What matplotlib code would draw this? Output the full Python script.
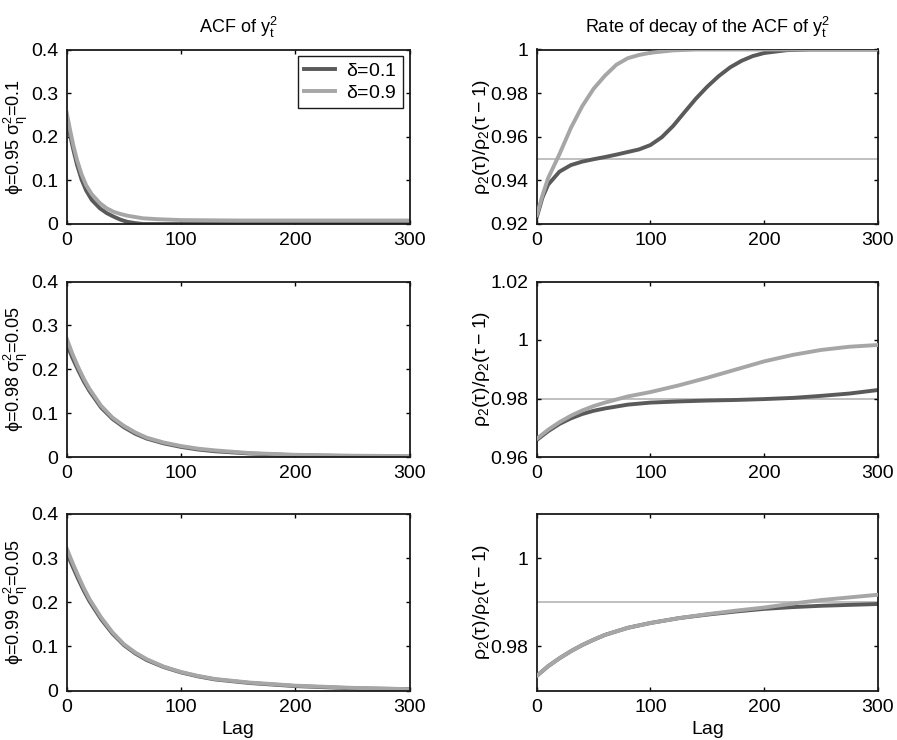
import matplotlib
matplotlib.use("Agg")
import matplotlib.pyplot as plt
import numpy as np

plt.rcParams['font.family'] = ['Liberation Sans', 'DejaVu Sans']
plt.rcParams['mathtext.fontset'] = 'dejavusans'
plt.rcParams['mathtext.default'] = 'regular'

# ACF of y_t^2, left column (rows: phi=0.95, 0.98, 0.99)
lag_a1 = [0, 3, 6, 9, 13, 17, 22, 29, 35, 41, 47, 53, 60, 67, 80, 100, 150, 200, 250, 300]
acf1_d01 = [0.245, 0.203, 0.168, 0.136, 0.102, 0.077, 0.055, 0.036, 0.025, 0.017, 0.010, 0.005, 0.002, 0.0,
            0.0, 0.0, 0.0, 0.0, 0.0, 0.0]
acf1_d09 = [0.255, 0.215, 0.178, 0.147, 0.114, 0.089, 0.068, 0.048, 0.036, 0.028, 0.023, 0.019, 0.016, 0.013,
            0.011, 0.009, 0.008, 0.008, 0.008, 0.008]

lag_a = [0, 5, 10, 15, 20, 30, 40, 50, 60, 70, 85, 100, 115, 130, 160, 200, 250, 300]
acf2_d01 = [0.258, 0.226, 0.198, 0.172, 0.150, 0.113, 0.087, 0.068, 0.053, 0.042, 0.031, 0.023, 0.017, 0.013,
            0.008, 0.004, 0.002, 0.001]
acf2_d09 = [0.270, 0.235, 0.205, 0.178, 0.155, 0.117, 0.090, 0.071, 0.056, 0.044, 0.033, 0.025, 0.019, 0.015,
            0.009, 0.005, 0.003, 0.002]
acf3_d01 = [0.312, 0.282, 0.253, 0.226, 0.202, 0.162, 0.129, 0.103, 0.084, 0.069, 0.053, 0.041, 0.032, 0.025,
            0.017, 0.010, 0.005, 0.003]
acf3_d09 = [0.322, 0.290, 0.260, 0.232, 0.207, 0.166, 0.132, 0.105, 0.086, 0.071, 0.054, 0.042, 0.033, 0.026,
            0.018, 0.011, 0.006, 0.003]

# rate of decay rho2(tau)/rho2(tau-1), right column
lag_r1_d01 = [0, 5, 10, 20, 30, 40, 50, 60, 70, 80, 90, 100, 110, 120, 130, 140, 150, 160, 170, 180, 190, 200,
              220, 240, 300]
rate1_d01 = [0.923, 0.932, 0.938, 0.944, 0.947, 0.9486, 0.9497, 0.9507, 0.9518, 0.9530, 0.9542, 0.9562, 0.9598,
             0.9650, 0.9713, 0.9775, 0.9830, 0.9878, 0.9918, 0.9948, 0.9970, 0.9984, 0.9997, 1.0, 1.0]
lag_r1_d09 = [0, 5, 10, 20, 30, 40, 50, 60, 70, 80, 90, 100, 120, 140, 300]
rate1_d09 = [0.924, 0.933, 0.941, 0.952, 0.964, 0.974, 0.982, 0.988, 0.993, 0.996, 0.9975, 0.9985, 0.9996,
             1.0, 1.0]

lag_r = [0, 10, 20, 30, 40, 50, 60, 80, 100, 125, 150, 175, 200, 225, 250, 275, 300]
rate2_d01 = [0.9658, 0.9688, 0.9713, 0.9732, 0.9747, 0.9758, 0.9766, 0.9779, 0.9786, 0.9790, 0.9793, 0.9795,
             0.9798, 0.9802, 0.9809, 0.9817, 0.9829]
rate2_d09 = [0.9662, 0.9693, 0.9719, 0.9741, 0.9759, 0.9774, 0.9786, 0.9807, 0.9822, 0.9845, 0.9871, 0.9899,
             0.9927, 0.9949, 0.9966, 0.9977, 0.9983]
rate3_d01 = [0.9733, 0.9755, 0.9773, 0.9789, 0.9803, 0.9815, 0.9826, 0.9842, 0.9853, 0.9864, 0.9872, 0.9879,
             0.9885, 0.9889, 0.9892, 0.9894, 0.9896]
rate3_d09 = [0.9733, 0.9755, 0.9773, 0.9789, 0.9803, 0.9815, 0.9826, 0.9842, 0.9853, 0.9864, 0.9873, 0.9881,
             0.9888, 0.9897, 0.9905, 0.9911, 0.9917]

phi = [0.95, 0.98, 0.99]
row_labels = [r'$\phi$=0.95 $\sigma^2_\eta$=0.1',
              r'$\phi$=0.98 $\sigma^2_\eta$=0.05',
              r'$\phi$=0.99 $\sigma^2_\eta$=0.05']
rate_ylims = [(0.92, 1.0), (0.96, 1.02), (0.97, 1.01)]
rate_yticks = [[0.92, 0.94, 0.96, 0.98, 1.0], [0.96, 0.98, 1.0, 1.02], [0.98, 1.0]]
rate_yticklabels = [['0.92', '0.94', '0.96', '0.98', '1'], ['0.96', '0.98', '1', '1.02'], ['0.98', '1']]

DARK = '#5a5a5a'
LIGHT = '#a6a6a6'
FS = 14

fig = plt.figure(figsize=(8.97, 7.4), dpi=100)
W, H = 897.0, 740.0
rows_px = [(49.5, 224.0), (281.5, 457.0), (514.0, 690.5)]
cols_px = [(66.7, 409.5), (536.7, 878.0)]


def style(ax):
    for s in ax.spines.values():
        s.set_linewidth(1.3)
        s.set_color('#1a1a1a')
    ax.tick_params(direction='in', length=3, width=1, top=True, right=True,
                   labelsize=FS, pad=6)
    ax.set_xlim(0, 300)
    ax.set_xticks([0, 100, 200, 300])


acf_data = [(lag_a1, acf1_d01, acf1_d09), (lag_a, acf2_d01, acf2_d09), (lag_a, acf3_d01, acf3_d09)]
rate_data = [(lag_r1_d01, rate1_d01, lag_r1_d09, rate1_d09),
             (lag_r, rate2_d01, lag_r, rate2_d09),
             (lag_r, rate3_d01, lag_r, rate3_d09)]

for i, (top, bot) in enumerate(rows_px):
    # left: ACF
    l0, l1 = cols_px[0]
    ax = fig.add_axes([l0 / W, 1 - bot / H, (l1 - l0) / W, (bot - top) / H])
    lg, d1, d9 = acf_data[i]
    ax.plot(lg, d1, color=DARK, lw=2.8, label=r'$\delta$=0.1')
    ax.plot(lg, d9, color=LIGHT, lw=2.8, label=r'$\delta$=0.9')
    ax.set_ylim(0, 0.4)
    ax.set_yticks([0, 0.1, 0.2, 0.3, 0.4])
    ax.set_yticklabels(['0', '0.1', '0.2', '0.3', '0.4'])
    style(ax)
    ax.set_ylabel(row_labels[i], fontsize=13)
    ax.yaxis.set_label_coords(-0.108, 0.5)
    if i == 0:
        ax.set_title(r'ACF of $y_t^2$', fontsize=FS - 1, pad=12)
        leg = ax.legend(loc='upper right', fontsize=FS, fancybox=False, edgecolor='#1a1a1a',
                        framealpha=1, borderaxespad=0.35, handlelength=1.6, handletextpad=0.6,
                        borderpad=0.3, labelspacing=0.25)
        leg.get_frame().set_linewidth(1.0)
    if i == 2:
        ax.set_xlabel('Lag', fontsize=FS)

    # right: rate of decay
    r0, r1 = cols_px[1]
    ax = fig.add_axes([r0 / W, 1 - bot / H, (r1 - r0) / W, (bot - top) / H])
    ax.axhline(phi[i], color='#b4b4b4', lw=1.2, zorder=1)
    xa, ya, xb, yb = rate_data[i]
    ax.plot(xa, ya, color=DARK, lw=2.8, zorder=2)
    ax.plot(xb, yb, color=LIGHT, lw=2.8, zorder=3)
    ax.set_ylim(*rate_ylims[i])
    ax.set_yticks(rate_yticks[i])
    ax.set_yticklabels(rate_yticklabels[i])
    style(ax)
    ax.set_ylabel(r'$\rho_2(\tau)/\rho_2(\tau-1)$', fontsize=14)
    ax.yaxis.set_label_coords(-0.13, 0.5)
    if i == 0:
        ax.set_title(r'Rate of decay of the ACF of $y_t^2$', fontsize=FS - 1, pad=12)
    if i == 2:
        ax.set_xlabel('Lag', fontsize=FS)

fig.savefig('out.png', dpi=100)
